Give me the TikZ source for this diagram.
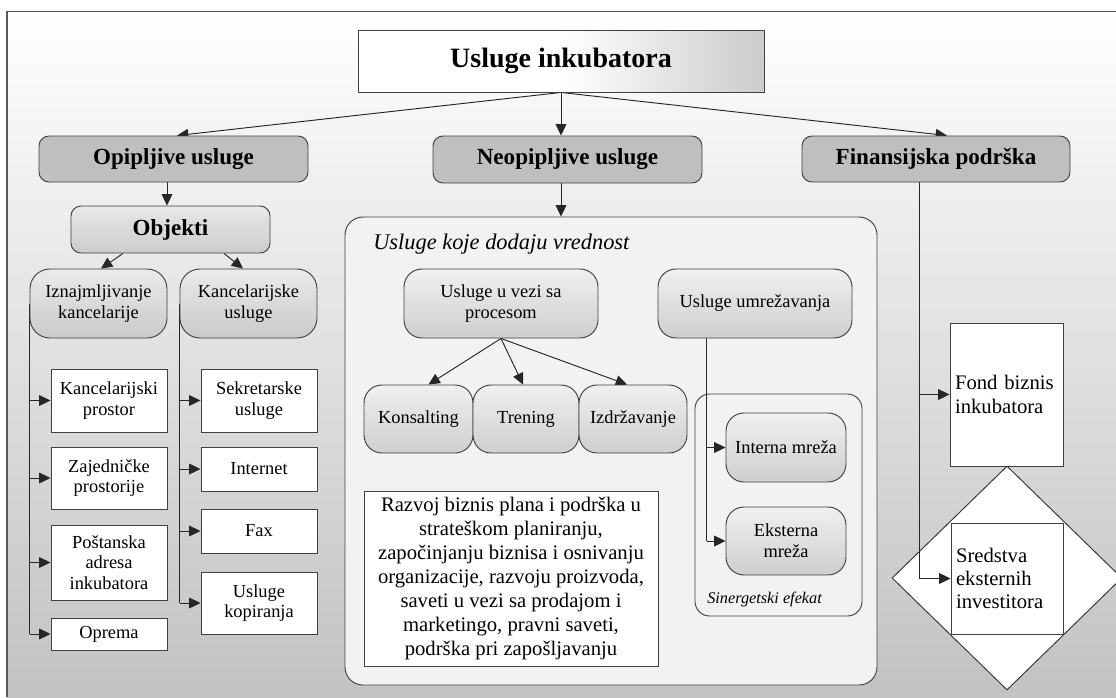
\documentclass[tikz,border=0pt]{standalone}
\usepackage{fontspec}
\setmainfont{Liberation Serif}
\usetikzlibrary{arrows.meta,calc,shapes.geometric}
\pgfdeclarelayer{back}
\pgfdeclarelayer{wires}
\pgfsetlayers{back,wires,main}

\begin{document}
\begin{tikzpicture}[x=0.75pt,y=-0.75pt,
  sz/.style 2 args={minimum width=#1*0.75pt,minimum height=#2*0.75pt},
  box/.style={draw=black!75,line width=0.7pt,inner sep=1pt,align=center,text=black},
  head/.style={box,rounded corners=7.5pt,fill=black!25,
    font=\fontsize{17.3pt}{20pt}\selectfont\bfseries},
  soft/.style={box,rounded corners=7.5pt,top color=black!9,bottom color=black!20,
    font=\fontsize{17.3pt}{20pt}\selectfont\bfseries},
  tab/.style={box,rounded corners=15pt,top color=black!8,bottom color=black!21,
    font=\fontsize{13.8pt}{15.6pt}\selectfont},
  pill/.style={box,rounded corners=13.5pt,top color=black!6,bottom color=black!19,
    font=\fontsize{13.8pt}{16pt}\selectfont},
  leaf/.style={box,fill=white,font=\fontsize{13.8pt}{15.6pt}\selectfont},
  fund/.style={box,fill=white,align=left,inner sep=3.75pt,
    font=\fontsize{15.5pt}{17.5pt}\selectfont},
  wire/.style={draw=black!85,line width=0.7pt},
  arr/.style={wire,-{Triangle[length=8.5pt,width=8pt]}},
]
\useasboundingbox (0,0) rectangle (1116,697);

% ---- frame, value-added panel, synergy panel, funds diamond
\begin{pgfonlayer}{back}
  \shade[top color=white,bottom color=black!24] (7,11.5) rectangle (1116,697);
  \draw[black!65,line width=0.8pt] (7,697) -- (7,11.5) -- (1116,11.5);
  \node[box,rounded corners=13.5pt,fill=black!5,sz={532}{468}] (big) at (611,451) {};
  \node[anchor=base west,inner sep=0,font=\fontsize{16.8pt}{19pt}\selectfont\itshape]
    (bigl) at (373,249) {Usluge koje dodaju vrednost};
  \node[box,rounded corners=11pt,sz={167}{222}] (sin) at (778.5,505) {};
  \node[anchor=base west,inner sep=0,font=\fontsize{12.2pt}{14pt}\selectfont\itshape]
    (sinl) at (707,603) {Sinergetski efekat};
  \node[draw=black!80,line width=0.7pt,fill=white,diamond,aspect=1,inner sep=0,
    sz={230}{224}] (dia) at (1007,578) {};
\end{pgfonlayer}

% ---- top level
\node[box,left color=white,right color=black!20,middle color=white,sz={406}{62},
  font=\fontsize{21pt}{24pt}\selectfont\bfseries] (title) at (561,61) {Usluge inkubatora};
\node[head,sz={269}{46}] (opip) at (173.5,159) {Opipljive usluge};
\node[head,sz={269}{47}] (neo) at (567.5,159.5) {Neopipljive usluge};
\node[head,sz={268}{46}] (fin) at (936,159) {Finansijska podrška};

% ---- tangible services
\node[soft,sz={199}{47}] (obj) at (170.5,229.5) {Objekti};
\node[tab,sz={137}{69}] (izn) at (98.5,303.5) {Iznajmljivanje\\kancelarije};
\node[tab,sz={137}{69}] (kanc) at (248.5,303.5) {Kancelarijske\\usluge};

\node[leaf,sz={116}{63}] (kp) at (109,400.5) {Kancelarijski\\prostor};
\node[leaf,sz={116}{62}] (zp) at (109,478) {Zajedničke\\prostorije};
\node[leaf,sz={116}{75}] (pa) at (109,562.5) {Poštanska\\adresa\\inkubatora};
\node[leaf,sz={116}{32}] (op) at (109,634) {Oprema};

\node[leaf,sz={116}{63}] (su) at (259,400.5) {Sekretarske\\usluge};
\node[leaf,sz={116}{44}] (int) at (259,469) {Internet};
\node[leaf,sz={116}{44}] (fax) at (259,531) {Fax};
\node[leaf,sz={116}{62}] (uk) at (259,603) {Usluge\\kopiranja};

% ---- intangible services
\node[pill,sz={194}{69}] (proc) at (501,303.5) {Usluge u vezi sa\\procesom};
\node[pill,sz={194}{69}] (umr) at (755,303.5) {Usluge umrežavanja};
\node[pill,sz={109}{68}] (kons) at (418.5,419) {Konsalting};
\node[pill,sz={106}{68}] (tren) at (526,419) {Trening};
\node[pill,sz={108}{68}] (izd) at (633,419) {Izdržavanje};
\node[box,fill=white,sz={294}{175},font=\fontsize{15.5pt}{18pt}\selectfont] (txt) at (511,578.5)
  {Razvoj biznis plana i podrška u\\strateškom planiranju,\\započinjanju biznisa i osnivanju\\organizacije, razvoju proizvoda,\\saveti u vezi sa prodajom i\\marketingo, pravni saveti,\\podrška pri zapošljavanju};
\node[pill,sz={120}{69}] (intm) at (786,447.5) {Interna mreža};
\node[pill,sz={120}{68}] (ekst) at (786,541) {Eksterna\\mreža};

% ---- financial support
\node[fund,text width=77.25pt,minimum height=143*0.75pt] (fond) at (1006.5,394.5) {Fond biznis\\inkubatora};
\node[fund,text width=76.5pt,minimum height=111*0.75pt] (sred) at (1007,578.5) {Sredstva\\eksternih\\investitora};

% ---- connectors
\begin{pgfonlayer}{wires}
  \draw[arr] (title.south) -- ($(opip.north)+(3.5,0)$);
  \draw[arr] (title.south) -- (title.south |- neo.north);
  \draw[arr] (title.south) -- ($(fin.north)+(11,0)$);
  \draw[arr] (title.south |- neo.south) -- (title.south |- big.north);

  \draw[arr] ($(opip.south)+(-6.5,0)$) -- ($(obj.north)+(-3.5,0)$);
  \draw[arr] ($(obj.south)+(-47.5,0)$) -- ($(izn.north)+(2.5,0)$);
  \draw[arr] ($(obj.south)+(53.5,0)$) -- ($(kanc.north)+(-5.5,0)$);

  \draw[wire] (izn.west) -- (izn.west |- op.west);
  \foreach \b in {kp,zp,pa,op} \draw[arr] (izn.west |- \b.west) -- (\b.west);
  \draw[wire] (kanc.west) -- (kanc.west |- uk.west);
  \foreach \b in {su,int,fax,uk} \draw[arr] (kanc.west |- \b.west) -- (\b.west);

  \draw[arr] (proc.south) -- ($(kons.north)+(10,0)$);
  \draw[arr] (proc.south) -- ($(tren.north)+(-3,0)$);
  \draw[arr] (proc.south) -- ($(izd.north)+(-6,0)$);

  \coordinate (umrx) at ($(umr.south west)+(49,0)$);
  \draw[wire] (umrx) -- (umrx |- ekst.west);
  \draw[arr] (umrx |- intm.west) -- (intm.west);
  \draw[arr] (umrx |- ekst.west) -- (ekst.west);

  \coordinate (finx) at ($(fin.south)+(-17,0)$);
  \draw[wire] (finx) -- (finx |- sred.west);
  \draw[arr] (finx |- fond.west) -- (fond.west);
  \draw[arr] (finx |- sred.west) -- (sred.west);
\end{pgfonlayer}
\end{tikzpicture}
\end{document}
